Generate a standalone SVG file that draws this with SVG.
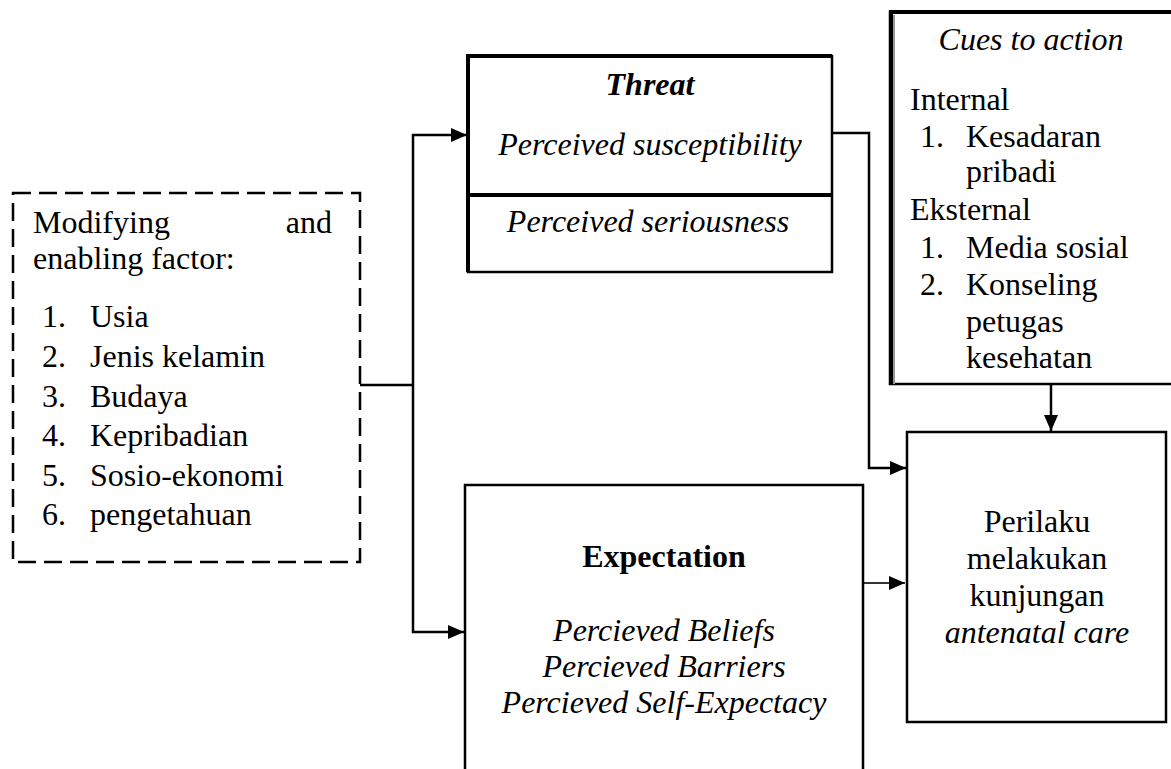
<svg xmlns="http://www.w3.org/2000/svg" width="1171" height="769" viewBox="0 0 1171 769">
<defs>
<style>
.t{font-family:"Liberation Serif","Times New Roman",serif;font-size:32px;fill:#000}
.i{font-style:italic}
.b{font-weight:bold}
.c{text-anchor:middle}
.box{fill:#fff;stroke:#000;stroke-width:2.5}
.ln{fill:none;stroke:#000;stroke-width:2.5}
</style>
<marker id="ah" viewBox="0 0 16 14" refX="16" refY="7" markerWidth="16" markerHeight="14" markerUnits="userSpaceOnUse" orient="auto">
<path d="M0,0 L16,7 L0,14 Z" fill="#000"/>
</marker>
</defs>
<rect width="1171" height="769" fill="#fff"/>

<g id="connectors">
<path class="ln" d="M360,385 H413"/>
<path class="ln" d="M413,385 V135 H467" marker-end="url(#ah)"/>
<path class="ln" d="M413,385 V632 H464" marker-end="url(#ah)"/>
<path class="ln" d="M832,133 H869 V468 H906" marker-end="url(#ah)"/>
<path class="ln" d="M1051,384 V431" marker-end="url(#ah)"/>
<path d="M863,583 H905" fill="none" stroke="#333" stroke-width="1.8" marker-end="url(#ah)"/>
</g>

<g id="modifying">
<rect x="13" y="193" width="347" height="369" fill="#fff" stroke="#000" stroke-width="2.5" stroke-dasharray="18 8"/>
<text class="t" x="33" y="233">Modifying</text>
<text class="t" x="332" y="233" text-anchor="end">and</text>
<text class="t" x="33" y="269">enabling factor:</text>
<text class="t" x="42" y="327">1.</text><text class="t" x="90" y="327">Usia</text>
<text class="t" x="42" y="367">2.</text><text class="t" x="90" y="367">Jenis kelamin</text>
<text class="t" x="42" y="407">3.</text><text class="t" x="90" y="407">Budaya</text>
<text class="t" x="42" y="446">4.</text><text class="t" x="90" y="446">Kepribadian</text>
<text class="t" x="42" y="486">5.</text><text class="t" x="90" y="486">Sosio-ekonomi</text>
<text class="t" x="42" y="525">6.</text><text class="t" x="90" y="525">pengetahuan</text>
</g>

<g id="threat">
<rect class="box" x="468" y="56" width="364" height="216"/>
<path d="M468,272 V56 H832" fill="none" stroke="#000" stroke-width="4"/>
<path d="M468,195 H832" fill="none" stroke="#000" stroke-width="4"/>
<text class="t i b c" x="650" y="95">Threat</text>
<text class="t i c" x="650" y="155">Perceived susceptibility</text>
<text class="t i c" x="648" y="232">Perceived seriousness</text>
</g>

<g id="cues">
<rect class="box" x="890" y="12" width="290" height="372"/>
<path d="M891,384 V12 H1171" fill="none" stroke="#000" stroke-width="4"/>
<path d="M894,15 V384" fill="none" stroke="#999" stroke-width="2"/>
<text class="t i c" x="1031" y="50">Cues to action</text>
<text class="t" x="910" y="110">Internal</text>
<text class="t" x="920" y="147">1.</text><text class="t" x="966" y="147">Kesadaran</text>
<text class="t" x="966" y="182">pribadi</text>
<text class="t" x="910" y="220">Eksternal</text>
<text class="t" x="920" y="258">1.</text><text class="t" x="966" y="258">Media sosial</text>
<text class="t" x="920" y="295">2.</text><text class="t" x="966" y="295">Konseling</text>
<text class="t" x="966" y="332">petugas</text>
<text class="t" x="966" y="368">kesehatan</text>
</g>

<g id="perilaku">
<rect class="box" x="907" y="432" width="259" height="290"/>
<text class="t c" x="1037" y="532">Perilaku</text>
<text class="t c" x="1037" y="569">melakukan</text>
<text class="t c" x="1037" y="606">kunjungan</text>
<text class="t i c" x="1037" y="643">antenatal care</text>
</g>

<g id="expectation">
<path class="ln" d="M465,775 V485 H863 V775"/>
<text class="t b c" x="664" y="567">Expectation</text>
<text class="t i c" x="664" y="641">Percieved Beliefs</text>
<text class="t i c" x="664" y="677">Percieved Barriers</text>
<text class="t i c" x="664" y="713">Percieved Self-Expectacy</text>
</g>
</svg>
